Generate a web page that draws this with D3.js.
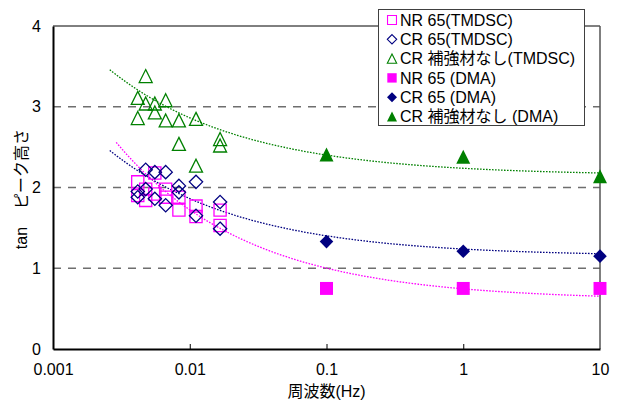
<!DOCTYPE html>
<html>
<head>
<meta charset="utf-8">
<script src="https://cdn.jsdelivr.net/npm/d3@7"></script>
<style>
  html, body { margin: 0; padding: 0; background: #fff; }
  svg { display: block; }
  text { font-family: "Liberation Sans", Arial, "Noto Sans CJK JP", sans-serif; fill: #000; }
</style>
</head>
<body>
<svg id="chart" width="618" height="403"></svg>
<script>
// Modulation periods (s) of the TMDSC runs; two runs per period
const periodsSec = [240, 210, 180, 150, 120, 90, 60];
const nr65Tmdsc  = [[2.07, 1.90], [1.98, 1.84], [2.18, 1.92], [1.98, 1.88], [1.88, 1.72], [1.77, 1.64], [1.72, 1.53]];
const cr65Tmdsc  = [[1.95, 1.88], [2.22, 1.98], [2.19, 1.86], [2.19, 1.78], [2.02, 1.94], [2.07, 1.65], [1.82, 1.49]];
const crBareTmdsc = [[3.11, 2.86], [3.38, 3.04], [3.04, 2.93], [3.08, 2.83], [2.83, 2.54], [2.85, 2.27], [2.60, 2.52]];

// DMA frequencies (Hz) and peak heights
const dmaFreqHz  = [0.1, 1, 10];
const nr65Dma    = [0.75, 0.75, 0.75];
const cr65Dma    = [1.33, 1.21, 1.15];
const crBareDma  = [2.41, 2.38, 2.14];

// Fitted trend curves: y = c + a * f^b, drawn from the start frequency up to 10 Hz
const trendNames   = ["NR 65", "CR 65", "CR bare"];
const trendStartHz = [0.0029, 0.0026, 0.0026];
const trendC       = [0.604, 1.148, 2.148];
const trendA       = [0.141, 0.090, 0.090];
const trendB       = [-0.45, -0.45, -0.45];

const xTicks = [0.001, 0.01, 0.1, 1, 10];
const xTickLabels = ["0.001", "0.01", "0.1", "1", "10"];
const yTicks = [0, 1, 2, 3, 4];
const yGrid = [1, 2, 3];

const legendLabels = [
  "NR 65(TMDSC)", "CR 65(TMDSC)", "CR 補強材なし(TMDSC)",
  "NR 65 (DMA)", "CR 65 (DMA)", "CR 補強材なし (DMA)"
];

const MAGENTA = "#ff00ff", NAVY = "#000080", GREEN = "#008000";

const svg = d3.select("#chart");
const plotL = 53, plotR = 600, plotT = 26, plotB = 349;

const x = d3.scaleLog().domain([0.001, 10]).range([plotL, plotR]);
const y = d3.scaleLinear().domain([0, 4]).range([plotB, plotT]);

// marker shapes, size = half-extent squared
const sqType = { draw(ctx, size) { const r = Math.sqrt(size); ctx.rect(-r, -r, 2 * r, 2 * r); } };
const diaType = { draw(ctx, size) { const r = Math.sqrt(size); ctx.moveTo(0, -r); ctx.lineTo(r, 0); ctx.lineTo(0, r); ctx.lineTo(-r, 0); ctx.closePath(); } };
const triType = { draw(ctx, size) { const r = Math.sqrt(size); ctx.moveTo(0, -r); ctx.lineTo(r, r); ctx.lineTo(-r, r); ctx.closePath(); } };

// dashed grid
svg.append("g").selectAll("line").data(yGrid).join("line")
  .attr("x1", plotL).attr("x2", plotR)
  .attr("y1", d => y(d)).attr("y2", d => y(d))
  .attr("stroke", "#6e6e6e").attr("stroke-width", 1.5)
  .attr("stroke-dasharray", "8,7");

// frame: top and right edges
svg.append("line").attr("x1", plotL).attr("x2", plotR).attr("y1", plotT).attr("y2", plotT)
  .attr("stroke", "#000").attr("stroke-width", 1);
svg.append("line").attr("x1", plotR).attr("x2", plotR).attr("y1", plotT).attr("y2", plotB)
  .attr("stroke", "#555").attr("stroke-width", 1.5);

// axes
const xAxis = d3.axisBottom(x).tickValues(xTicks)
  .tickFormat((d, i) => xTickLabels[i]).tickSizeInner(-5).tickSizeOuter(0).tickPadding(15);
const gx = svg.append("g").attr("transform", `translate(0,${plotB})`).call(xAxis);
gx.select(".domain").attr("stroke", "#000").attr("stroke-width", 2);
gx.selectAll(".tick line").attr("stroke", "#000").attr("stroke-width", 1)
  .attr("opacity", d => (d === 0.001 || d === 10) ? 0 : 1);
gx.selectAll("text").attr("font-size", 16).attr("font-family", null);

const yAxis = d3.axisLeft(y).tickValues(yTicks).tickFormat(d3.format("d"))
  .tickSize(0).tickPadding(12);
const gy = svg.append("g").attr("transform", `translate(${plotL},0)`).call(yAxis);
gy.select(".domain").attr("stroke", "#000").attr("stroke-width", 2);
gy.selectAll("text").attr("font-size", 16).attr("font-family", null);

// axis titles
svg.append("text").attr("x", (plotL + plotR) / 2).attr("y", 397)
  .attr("text-anchor", "middle").attr("font-size", 16).text("周波数(Hz)");
svg.append("text").attr("transform", "translate(27,238) rotate(-90)")
  .attr("text-anchor", "middle").attr("font-size", 16).text("tan");
svg.append("text").attr("transform", "translate(27,169) rotate(-90)")
  .attr("text-anchor", "middle").attr("font-size", 16).text("ピーク高さ");

// trend curves
const trendColors = [MAGENTA, NAVY, GREEN];
trendNames.forEach((name, k) => {
  const lo = Math.log10(trendStartHz[k]), hi = 1;
  const freqs = d3.range(0, 201).map(i => Math.pow(10, lo + (hi - lo) * i / 200));
  const line = d3.line()
    .x(f => x(f))
    .y(f => y(trendC[k] + trendA[k] * Math.pow(f, trendB[k])));
  svg.append("path").datum(freqs).attr("d", line)
    .attr("fill", "none").attr("stroke", trendColors[k])
    .attr("stroke-width", 1.3).attr("stroke-dasharray", "1.6,1.4");
});

// open markers for TMDSC
function tmdscPoints(vals) {
  const pts = [];
  periodsSec.forEach((p, i) => vals[i].forEach(v => pts.push([1 / p, v])));
  return pts;
}
function drawOpen(vals, type, size, color) {
  const sym = d3.symbol().type(type).size(size);
  svg.append("g").selectAll("path").data(tmdscPoints(vals)).join("path")
    .attr("transform", d => `translate(${x(d[0])},${y(d[1])})`)
    .attr("d", sym).attr("fill", "none").attr("stroke", color).attr("stroke-width", 1.3);
}
drawOpen(crBareTmdsc, triType, 42, GREEN);
drawOpen(nr65Tmdsc, sqType, 37, MAGENTA);
drawOpen(cr65Tmdsc, diaType, 44, NAVY);

// filled markers for DMA
function drawFilled(vals, type, size, color) {
  const sym = d3.symbol().type(type).size(size);
  svg.append("g").selectAll("path").data(dmaFreqHz.map((f, i) => [f, vals[i]])).join("path")
    .attr("transform", d => `translate(${x(d[0])},${y(d[1])})`)
    .attr("d", sym).attr("fill", color).attr("stroke", "none");
}
drawFilled(nr65Dma, sqType, 42, MAGENTA);
drawFilled(cr65Dma, diaType, 46, NAVY);
drawFilled(crBareDma, triType, 49, GREEN);

// legend
const lg = svg.append("g");
lg.append("rect").attr("x", 378.5).attr("y", 9.5).attr("width", 206).attr("height", 116)
  .attr("fill", "#fff").attr("stroke", "#404040").attr("stroke-width", 1);
const legendMarks = [
  { type: sqType, size: 20, color: MAGENTA, filled: false },
  { type: diaType, size: 22, color: NAVY, filled: false },
  { type: triType, size: 22, color: GREEN, filled: false },
  { type: sqType, size: 22, color: MAGENTA, filled: true },
  { type: diaType, size: 25, color: NAVY, filled: true },
  { type: triType, size: 25, color: GREEN, filled: true }
];
legendLabels.forEach((label, i) => {
  const cy = 20 + i * 19.3;
  const m = legendMarks[i];
  lg.append("path").attr("transform", `translate(392,${cy})`)
    .attr("d", d3.symbol().type(m.type).size(m.size)())
    .attr("fill", m.filled ? m.color : "none")
    .attr("stroke", m.filled ? "none" : m.color).attr("stroke-width", 1.1);
  lg.append("text").attr("x", 400).attr("y", cy).attr("dy", "0.36em")
    .attr("font-size", 16).text(label);
});
</script>
</body>
</html>
